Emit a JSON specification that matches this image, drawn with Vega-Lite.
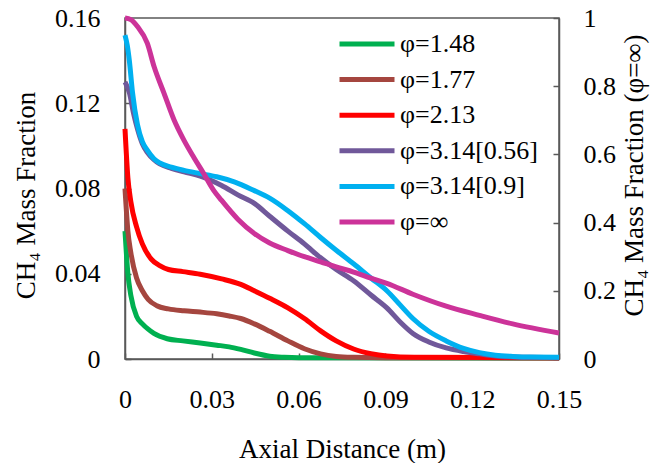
{
  "$schema": "https://vega.github.io/schema/vega-lite/v6.json",
  "autosize": "none",
  "width": 434,
  "height": 341,
  "padding": {"left": 125, "top": 18, "right": 94, "bottom": 104},
  "background": "white",
  "config": {
    "font": "Liberation Serif",
    "view": {"stroke": "#595959", "strokeWidth": 1.5},
    "axis": {
      "labelFont": "Liberation Serif",
      "titleFont": "Liberation Serif",
      "labelColor": "black",
      "titleColor": "black",
      "labelFontSize": 26,
      "titleFontSize": 27,
      "titleFontWeight": "normal",
      "domainColor": "#595959",
      "domainWidth": 1.5,
      "tickColor": "#595959",
      "tickWidth": 1.5,
      "tickSize": -6,
      "grid": false,
      "labelFlush": false,
      "labelOverlap": false
    }
  },
  "datasets": {
    "curves": [
      {"s":"φ=1.48","x":0,"y":0.06},{"s":"φ=1.48","x":0.001,"y":0.04},{"s":"φ=1.48","x":0.002,"y":0.03},{"s":"φ=1.48","x":0.004,"y":0.02},{"s":"φ=1.48","x":0.006,"y":0.0165},{"s":"φ=1.48","x":0.008,"y":0.014},{"s":"φ=1.48","x":0.01,"y":0.012},{"s":"φ=1.48","x":0.0146,"y":0.0095},{"s":"φ=1.48","x":0.02,"y":0.0085},{"s":"φ=1.48","x":0.026,"y":0.0075},{"s":"φ=1.48","x":0.0317,"y":0.0065},{"s":"φ=1.48","x":0.036,"y":0.0057},{"s":"φ=1.48","x":0.04,"y":0.0045},{"s":"φ=1.48","x":0.0447,"y":0.0028},{"s":"φ=1.48","x":0.05,"y":0.0013},{"s":"φ=1.48","x":0.055,"y":0.0008},{"s":"φ=1.48","x":0.06,"y":0.0006},{"s":"φ=1.48","x":0.15,"y":0.0005},
      {"s":"φ=1.77","x":0,"y":0.08},{"s":"φ=1.77","x":0.001,"y":0.06},{"s":"φ=1.77","x":0.002,"y":0.05},{"s":"φ=1.77","x":0.004,"y":0.038},{"s":"φ=1.77","x":0.006,"y":0.032},{"s":"φ=1.77","x":0.008,"y":0.028},{"s":"φ=1.77","x":0.011,"y":0.025},{"s":"φ=1.77","x":0.015,"y":0.0235},{"s":"φ=1.77","x":0.0204,"y":0.0226},{"s":"φ=1.77","x":0.026,"y":0.022},{"s":"φ=1.77","x":0.0317,"y":0.0212},{"s":"φ=1.77","x":0.036,"y":0.0202},{"s":"φ=1.77","x":0.04,"y":0.019},{"s":"φ=1.77","x":0.0447,"y":0.0165},{"s":"φ=1.77","x":0.05,"y":0.013},{"s":"φ=1.77","x":0.0563,"y":0.0085},{"s":"φ=1.77","x":0.062,"y":0.0048},{"s":"φ=1.77","x":0.0676,"y":0.0024},{"s":"φ=1.77","x":0.073,"y":0.0012},{"s":"φ=1.77","x":0.079,"y":0.0008},{"s":"φ=1.77","x":0.09,"y":0.0006},{"s":"φ=1.77","x":0.15,"y":0.0005},
      {"s":"φ=2.13","x":0,"y":0.108},{"s":"φ=2.13","x":0.001,"y":0.085},{"s":"φ=2.13","x":0.002,"y":0.074},{"s":"φ=2.13","x":0.004,"y":0.062},{"s":"φ=2.13","x":0.006,"y":0.054},{"s":"φ=2.13","x":0.009,"y":0.047},{"s":"φ=2.13","x":0.012,"y":0.0438},{"s":"φ=2.13","x":0.015,"y":0.042},{"s":"φ=2.13","x":0.02,"y":0.041},{"s":"φ=2.13","x":0.026,"y":0.0398},{"s":"φ=2.13","x":0.0334,"y":0.0376},{"s":"φ=2.13","x":0.04,"y":0.035},{"s":"φ=2.13","x":0.0447,"y":0.032},{"s":"φ=2.13","x":0.05,"y":0.0285},{"s":"φ=2.13","x":0.0563,"y":0.024},{"s":"φ=2.13","x":0.062,"y":0.019},{"s":"φ=2.13","x":0.0676,"y":0.0132},{"s":"φ=2.13","x":0.073,"y":0.0085},{"s":"φ=2.13","x":0.079,"y":0.0047},{"s":"φ=2.13","x":0.085,"y":0.0025},{"s":"φ=2.13","x":0.0905,"y":0.0014},{"s":"φ=2.13","x":0.1,"y":0.0008},{"s":"φ=2.13","x":0.15,"y":0.0006},
      {"s":"φ=3.14[0.56]","x":0,"y":0.13},{"s":"φ=3.14[0.56]","x":0.0015,"y":0.125},{"s":"φ=3.14[0.56]","x":0.003,"y":0.115},{"s":"φ=3.14[0.56]","x":0.0043,"y":0.108},{"s":"φ=3.14[0.56]","x":0.006,"y":0.101},{"s":"φ=3.14[0.56]","x":0.0077,"y":0.097},{"s":"φ=3.14[0.56]","x":0.01,"y":0.0935},{"s":"φ=3.14[0.56]","x":0.012,"y":0.0915},{"s":"φ=3.14[0.56]","x":0.016,"y":0.0895},{"s":"φ=3.14[0.56]","x":0.0204,"y":0.0878},{"s":"φ=3.14[0.56]","x":0.026,"y":0.0858},{"s":"φ=3.14[0.56]","x":0.0334,"y":0.0814},{"s":"φ=3.14[0.56]","x":0.039,"y":0.077},{"s":"φ=3.14[0.56]","x":0.0447,"y":0.073},{"s":"φ=3.14[0.56]","x":0.05,"y":0.067},{"s":"φ=3.14[0.56]","x":0.0563,"y":0.06},{"s":"φ=3.14[0.56]","x":0.062,"y":0.054},{"s":"φ=3.14[0.56]","x":0.0676,"y":0.0475},{"s":"φ=3.14[0.56]","x":0.073,"y":0.042},{"s":"φ=3.14[0.56]","x":0.079,"y":0.0367},{"s":"φ=3.14[0.56]","x":0.085,"y":0.03},{"s":"φ=3.14[0.56]","x":0.0905,"y":0.024},{"s":"φ=3.14[0.56]","x":0.095,"y":0.0175},{"s":"φ=3.14[0.56]","x":0.0995,"y":0.012},{"s":"φ=3.14[0.56]","x":0.105,"y":0.008},{"s":"φ=3.14[0.56]","x":0.111,"y":0.0052},{"s":"φ=3.14[0.56]","x":0.117,"y":0.0035},{"s":"φ=3.14[0.56]","x":0.1225,"y":0.0024},{"s":"φ=3.14[0.56]","x":0.13,"y":0.0012},{"s":"φ=3.14[0.56]","x":0.14,"y":0.0008},{"s":"φ=3.14[0.56]","x":0.15,"y":0.0006},
      {"s":"φ=3.14[0.9]","x":0,"y":0.152},{"s":"φ=3.14[0.9]","x":0.0008,"y":0.147},{"s":"φ=3.14[0.9]","x":0.0015,"y":0.14},{"s":"φ=3.14[0.9]","x":0.0026,"y":0.125},{"s":"φ=3.14[0.9]","x":0.0043,"y":0.11},{"s":"φ=3.14[0.9]","x":0.006,"y":0.102},{"s":"φ=3.14[0.9]","x":0.0077,"y":0.098},{"s":"φ=3.14[0.9]","x":0.01,"y":0.094},{"s":"φ=3.14[0.9]","x":0.012,"y":0.092},{"s":"φ=3.14[0.9]","x":0.016,"y":0.09},{"s":"φ=3.14[0.9]","x":0.0204,"y":0.0885},{"s":"φ=3.14[0.9]","x":0.026,"y":0.087},{"s":"φ=3.14[0.9]","x":0.0317,"y":0.0855},{"s":"φ=3.14[0.9]","x":0.038,"y":0.083},{"s":"φ=3.14[0.9]","x":0.0447,"y":0.079},{"s":"φ=3.14[0.9]","x":0.05,"y":0.0755},{"s":"φ=3.14[0.9]","x":0.0563,"y":0.0696},{"s":"φ=3.14[0.9]","x":0.062,"y":0.0635},{"s":"φ=3.14[0.9]","x":0.0676,"y":0.057},{"s":"φ=3.14[0.9]","x":0.073,"y":0.051},{"s":"φ=3.14[0.9]","x":0.079,"y":0.0447},{"s":"φ=3.14[0.9]","x":0.085,"y":0.038},{"s":"φ=3.14[0.9]","x":0.0905,"y":0.032},{"s":"φ=3.14[0.9]","x":0.095,"y":0.0255},{"s":"φ=3.14[0.9]","x":0.0995,"y":0.019},{"s":"φ=3.14[0.9]","x":0.105,"y":0.013},{"s":"φ=3.14[0.9]","x":0.111,"y":0.0085},{"s":"φ=3.14[0.9]","x":0.117,"y":0.005},{"s":"φ=3.14[0.9]","x":0.1225,"y":0.003},{"s":"φ=3.14[0.9]","x":0.128,"y":0.0018},{"s":"φ=3.14[0.9]","x":0.134,"y":0.0012},{"s":"φ=3.14[0.9]","x":0.14,"y":0.0009},{"s":"φ=3.14[0.9]","x":0.15,"y":0.0008}
    ],
    "inf": [
      {"s":"φ=∞","x":0,"y":1.0},{"s":"φ=∞","x":0.002,"y":0.995},{"s":"φ=∞","x":0.0043,"y":0.975},{"s":"φ=∞","x":0.0077,"y":0.926},{"s":"φ=∞","x":0.0101,"y":0.856},{"s":"φ=∞","x":0.0135,"y":0.779},{"s":"φ=∞","x":0.017,"y":0.7},{"s":"φ=∞","x":0.0204,"y":0.641},{"s":"φ=∞","x":0.0238,"y":0.591},{"s":"φ=∞","x":0.0272,"y":0.544},{"s":"φ=∞","x":0.0307,"y":0.494},{"s":"φ=∞","x":0.0334,"y":0.465},{"s":"φ=∞","x":0.039,"y":0.41},{"s":"φ=∞","x":0.0447,"y":0.368},{"s":"φ=∞","x":0.05,"y":0.34},{"s":"φ=∞","x":0.0563,"y":0.318},{"s":"φ=∞","x":0.062,"y":0.3},{"s":"φ=∞","x":0.0676,"y":0.285},{"s":"φ=∞","x":0.073,"y":0.27},{"s":"φ=∞","x":0.079,"y":0.255},{"s":"φ=∞","x":0.085,"y":0.237},{"s":"φ=∞","x":0.0905,"y":0.222},{"s":"φ=∞","x":0.0995,"y":0.19},{"s":"φ=∞","x":0.111,"y":0.155},{"s":"φ=∞","x":0.1225,"y":0.128},{"s":"φ=∞","x":0.134,"y":0.103},{"s":"φ=∞","x":0.15,"y":0.076}
    ]
  },
  "encoding": {
    "x": {
      "field": "x", "type": "quantitative",
      "scale": {"domain": [0, 0.15], "nice": false, "zero": false},
      "axis": {"values": [0, 0.03, 0.06, 0.09, 0.12, 0.15], "format": ".2~f", "title": "Axial Distance (m)", "labelPadding": 33, "titlePadding": 24}
    },
    "color": {
      "field": "s", "type": "nominal",
      "scale": {
        "domain": ["φ=1.48", "φ=1.77", "φ=2.13", "φ=3.14[0.56]", "φ=3.14[0.9]", "φ=∞"],
        "range": ["#00B050", "#A5463F", "#FF0000", "#70589A", "#00B0F0", "#CC3399"]
      },
      "legend": {
        "title": null,
        "orient": "none",
        "legendX": 212,
        "legendY": 14,
        "symbolType": "stroke",
        "symbolSize": 3025,
        "symbolStrokeWidth": 5,
        "clipHeight": 24,
        "rowPadding": 9.6,
        "labelFont": "Liberation Serif",
        "labelFontSize": 26,
        "labelColor": "black",
        "labelOffset": 3,
        "labelLimit": 300
      }
    }
  },
  "layer": [
    {
      "data": {"name": "curves"},
      "mark": {"type": "line", "strokeWidth": 5, "interpolate": "monotone"},
      "encoding": {
        "y": {
          "field": "y", "type": "quantitative",
          "scale": {"domain": [0, 0.16], "nice": false},
          "axis": {"orient": "left", "values": [0, 0.04, 0.08, 0.12, 0.16], "format": ".2~f", "title": "CH₄ Mass Fraction", "labelPadding": 31, "titlePadding": 14, "titleY": 177}
        }
      }
    },
    {
      "data": {"name": "inf"},
      "mark": {"type": "line", "strokeWidth": 5, "interpolate": "monotone"},
      "encoding": {
        "y": {
          "field": "y", "type": "quantitative",
          "scale": {"domain": [0, 1], "nice": false},
          "axis": {"orient": "right", "values": [0, 0.2, 0.4, 0.6, 0.8, 1], "format": ".1~f", "title": "CH₄ Mass Fraction (φ=∞)", "titleAngle": 270, "titleBaseline": "top", "labelPadding": 30, "titlePadding": 6, "titleY": 157}
        }
      }
    }
  ],
  "resolve": {"scale": {"y": "independent"}}
}
